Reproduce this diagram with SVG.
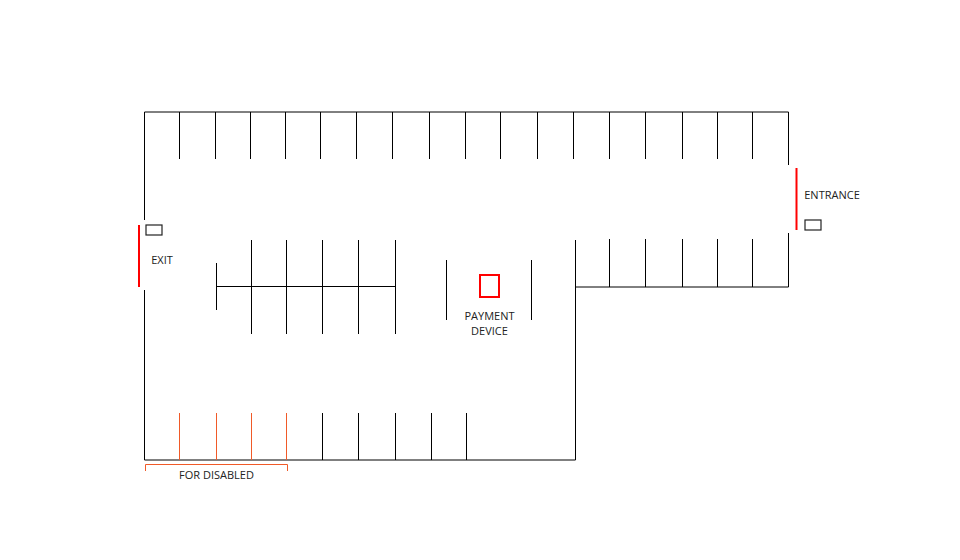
<svg xmlns="http://www.w3.org/2000/svg" width="960" height="560" viewBox="0 0 960 560">
<style>
.w{fill:none;stroke:#000;stroke-width:1}
.g{fill:none;stroke:#222;stroke-width:1.2}
.d{fill:none;stroke:#f05a28;stroke-width:1}
.r{fill:none;stroke:#f00;stroke-width:2}
text{font-family:"Open Sans","Noto Sans","Liberation Sans",sans-serif;font-size:11px;fill:#222;text-anchor:middle}
</style>
<rect width="960" height="560" fill="#fff"/>
<g id="walls" class="w">
<path d="M144.5 220V112H788.5V165"/>
<path d="M788.5 233V287H575.5"/>
<path d="M575.5 240V460H144.5V290"/>
</g>
<g id="top-stalls" class="w">
<path d="M179.500 112V159M215.500 112V159M250.500 112V159M285.500 112V159M320.500 112V159M356.500 112V159M392.500 112V159M429.500 112V159M465.500 112V159M500.500 112V159M537.500 112V159M573.500 112V159M609.500 112V159M645.500 112V159M682.500 112V159M717.500 112V159M752.500 112V159"/>
</g>
<g id="right-stalls" class="w">
<path d="M609.500 239V287M645.500 239V287M682.500 239V287M717.500 239V287M752.500 239V287"/>
</g>
<g id="middle-stalls" class="w">
<path d="M216.500 286.500H395.500M216.500 263V310"/>
<path d="M251.500 240V334M286.500 240V334M322.500 240V334M358.500 240V334M395.500 240V334"/>
<path d="M446.500 260V320M531.500 260V320"/>
</g>
<g id="bottom-stalls" class="w">
<path d="M322.500 413V460M358.500 413V460M395.500 413V460M431.500 413V460M466.500 413V460"/>
</g>
<g id="disabled-stalls" class="d">
<path d="M179.500 413V460M216.500 413V460M251.500 413V460M286.500 413V460"/>
<path d="M145.500 471V464.500H287.500V471"/>
<text x="216.500" y="478.500" stroke="none" style="fill:#222">FOR DISABLED</text>
</g>
<g id="exit">
<path class="r" d="M139 225V287"/>
<rect class="g" x="146" y="225" width="16" height="10"/>
<text x="162" y="264">EXIT</text>
</g>
<g id="entrance">
<path class="r" d="M796.500 168V230"/>
<rect class="g" x="805" y="220" width="16" height="10"/>
<text x="832" y="199">ENTRANCE</text>
</g>
<g id="payment-device">
<rect class="r" x="480" y="275" width="19" height="22"/>
<text x="489.500" y="320">PAYMENT</text>
<text x="489.500" y="335">DEVICE</text>
</g>
</svg>
